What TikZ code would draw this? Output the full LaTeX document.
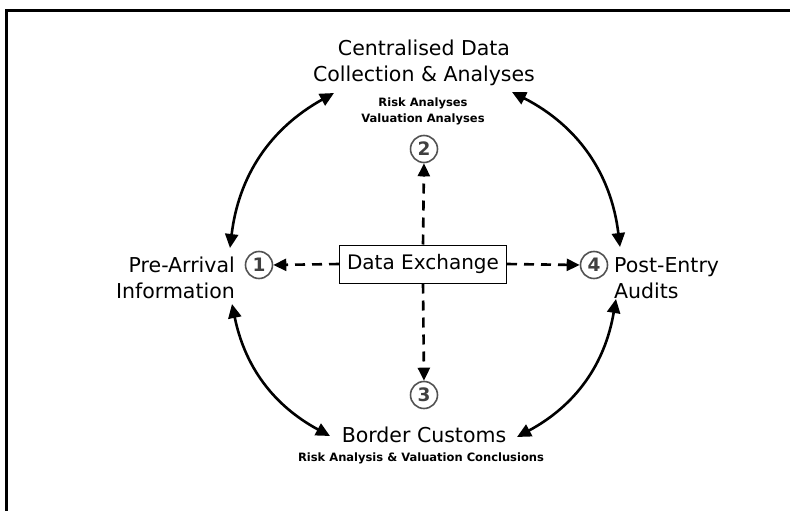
\documentclass[tikz,border=0pt]{standalone}
\usepackage{fontspec}
\setmainfont{DejaVu Sans}
\usetikzlibrary{arrows.meta}
\begin{document}
\begin{tikzpicture}[x=1pt,y=-1pt,
  big/.style={font=\fontsize{20.5}{26}\selectfont, inner sep=0pt},
  small/.style={font=\fontsize{11.5}{16}\selectfont\bfseries, inner sep=0pt},
  num/.style={circle, draw=black!68, line width=1.6pt, minimum size=27pt, inner sep=0pt,
    text=black!75, font=\fontsize{18.5}{18.5}\selectfont\bfseries},
  cycle/.style={line width=2.6pt, {Triangle[length=14pt,width=13pt]}-{Triangle[length=14pt,width=13pt]}},
  flow/.style={line width=2.6pt, dash pattern=on 10pt off 7pt, -{Triangle[length=13pt,width=12pt]}},
  exbox/.style={draw, line width=1pt, minimum width=167pt, minimum height=38pt, inner sep=0pt,
    font=\fontsize{20}{22}\selectfont}]
\useasboundingbox (0,0) rectangle (790,511);
\clip (0,0) rectangle (790,511);
\draw[line width=3pt] (6,530) |- (800,11);

% texts
\node[big, align=center] (cen) at (424,63) {Centralised Data\\Collection \& Analyses};
\node[small, align=center] (cens) at (423,111) {Risk Analyses\\Valuation Analyses};
\node[big, align=right, anchor=east] (pre) at (235,278) {Pre-Arrival\\Information};
\node[big, align=left, anchor=west] (post) at (614,278) {Post-Entry\\Audits};
\node[big] (bor) at (424,435) {Border Customs};
\node[small] (bors) at (421,458) {Risk Analysis \& Valuation Conclusions};

% numbers
\node[num] (n1) at (259,265) {1};
\node[num] (n2) at (424,149) {2};
\node[num] (n3) at (424,395) {3};
\node[num] (n4) at (594,265) {4};

% center box
\node[exbox] (ex) at (423,264) {Data Exchange};

% dashed flows
\draw[flow] (ex.west) -- (n1.east);
\draw[flow] (ex.east) -- (n4.west);
\draw[flow] (ex.north) -- (n2.south);
\draw[flow] (ex.south) -- (n3.north);

% arc endpoints
\coordinate (tl1) at (230,248);
\coordinate (tl2) at (334,93);
\coordinate (tr1) at (512,92);
\coordinate (tr2) at (620,247);
\coordinate (br1) at (616,299);
\coordinate (br2) at (517,437);
\coordinate (bl1) at (330,436);
\coordinate (bl2) at (232,304);

\draw[cycle] (tl1) to[bend left=27] (tl2);
\draw[cycle] (tr1) to[bend left=28] (tr2);
\draw[cycle] (br1) to[bend left=26] (br2);
\draw[cycle] (bl1) to[bend left=25] (bl2);
\end{tikzpicture}
\end{document}
